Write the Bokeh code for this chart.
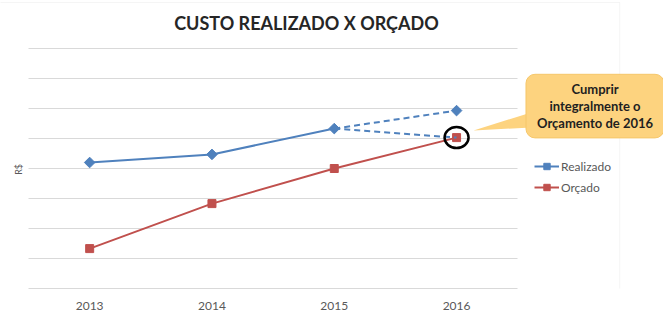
import math
from bokeh.plotting import figure
from bokeh.models import (Range1d, FixedTicker, Label, Legend, LegendItem,
                          PolyAnnotation, Grid, BasicTickFormatter)
from bokeh.embed import file_html
from bokeh.resources import INLINE

# ---- data -------------------------------------------------------------
years = [2013, 2014, 2015, 2016]
realizado = [4.20, 4.47, 5.33, 5.93]   # custo realizado (R$, sem escala)
orcado = [1.33, 2.83, 4.00, 5.03]      # custo orçado
grid_ticks = [0, 1, 2, 3, 4, 5, 6, 7, 8]

chart_title = "CUSTO REALIZADO X ORÇADO"
y_label = "R$"
callout_text = "Cumprir\nintegralmente o\nOrçamento de 2016"

# ---- style ------------------------------------------------------------
BLUE = "#4F81BD"
RED = "#C0504D"
GRID = "#D9D9D9"
BORDER = "#DEDEDE"
TEXT = "#595959"
FONT = "Lato"
CALLOUT_FILL = "#FDD37F"

# plotting area spans half a year either side of the data; the extra room
# on the right holds the legend and the callout
X0, X1 = years[0] - 0.5, years[-1] + 0.5
p = figure(width=663, height=316,
           x_range=Range1d(X0 - 0.229, X1 + 1.192),
           y_range=Range1d(0, 9.6),
           y_axis_location=None,
           output_backend="svg", toolbar_location=None,
           min_border_left=0, min_border_right=0,
           min_border_top=0, min_border_bottom=28)
p.outline_line_color = None
p.background_fill_color = "white"
p.border_fill_color = "white"
p.grid.visible = False

p.add_layout(Grid(dimension=1, ticker=FixedTicker(ticks=grid_ticks),
                  cross_bounds=(X0, X1),
                  grid_line_color=GRID, grid_line_width=1))

xa = p.xaxis[0]
xa.ticker = FixedTicker(ticks=years)
xa.formatter = BasicTickFormatter(use_scientific=False)
xa.bounds = (X0, X1)
xa.axis_line_color = GRID
xa.major_tick_line_color = None
xa.minor_tick_line_color = None
xa.major_label_text_font = FONT
xa.major_label_text_font_size = "12px"
xa.major_label_text_color = TEXT
xa.major_label_standoff = 7

# ---- chart frame border (top and right edges) -------------------------
for xs, ys in (([X0 - 0.3, X1 + 0.834], [9.533, 9.533]),
               ([X1 + 0.834, X1 + 0.834], [9.533, -1.0])):
    p.add_layout(PolyAnnotation(xs=xs, ys=ys, fill_alpha=0,
                                line_color=BORDER, line_width=1))

# ---- series -----------------------------------------------------------
o_line = p.line(years, orcado, line_color=RED, line_width=2)
o_pts = p.scatter(years, orcado, marker="square", size=8,
                  fill_color=RED, line_color=RED)

r_line = p.line(years[:3], realizado[:3], line_color=BLUE, line_width=2)
# projections for 2016: trend of realizado and target meeting the budget
p.line(years[2:], realizado[2:], line_color=BLUE, line_width=2, line_dash="6 4")
p.line([years[2], years[3]], [realizado[2], orcado[3]],
       line_color=BLUE, line_width=2, line_dash="6 4")
r_pts = p.scatter(years, realizado, marker="square", angle=math.pi / 4,
                  size=7.5, fill_color=BLUE, line_color=BLUE)

# highlight the 2016 budget point
p.ellipse(x=[years[3]], y=[orcado[3]], width=24, height=21,
          width_units="screen", height_units="screen",
          fill_color=None, line_color="black", line_width=2.5)

# ---- y axis name ------------------------------------------------------
p.add_layout(Label(x=X0 - 0.082, y=3.97, text=y_label, angle=math.pi / 2,
                   text_align="center", text_baseline="middle",
                   text_font=FONT, text_font_size="9px", text_color=TEXT))

# ---- callout ----------------------------------------------------------
p.add_layout(PolyAnnotation(xs=[2016.139, 2016.61, 2016.61],
                            ys=[5.267, 5.87, 5.37],
                            fill_color=CALLOUT_FILL, fill_alpha=1,
                            line_color=None))
p.add_layout(Label(x=X1 + 0.632, y=6.08, text=callout_text,
                   text_align="center", text_baseline="middle",
                   text_font=FONT, text_font_style="bold",
                   text_font_size="13px", text_color="#1F1F1F",
                   text_line_height=1.05,
                   background_fill_color=CALLOUT_FILL, background_fill_alpha=1,
                   border_line_color="#F5C66A", border_line_width=1,
                   border_radius=9, padding=(11, 7)))

# ---- title ------------------------------------------------------------
p.add_layout(Label(x=X0 - 0.229 + 306 / 122.33, y=8.84, text=chart_title,
                   text_align="center", text_baseline="middle",
                   text_font=FONT, text_font_style="bold",
                   text_font_size="18px", text_color="#262626"))

# ---- legend -----------------------------------------------------------
legend = Legend(items=[LegendItem(label="Realizado", renderers=[r_line, r_pts]),
                       LegendItem(label="Orçado", renderers=[o_line, o_pts])],
                location=(534, 93), orientation="vertical",
                glyph_width=25, glyph_height=16, label_height=16,
                label_standoff=2, spacing=5, padding=0, margin=0,
                border_line_color=None, background_fill_alpha=0,
                label_text_font=FONT, label_text_font_size="12px",
                label_text_color=TEXT)
p.add_layout(legend)

open("out.html", "w").write(file_html(p, INLINE))
